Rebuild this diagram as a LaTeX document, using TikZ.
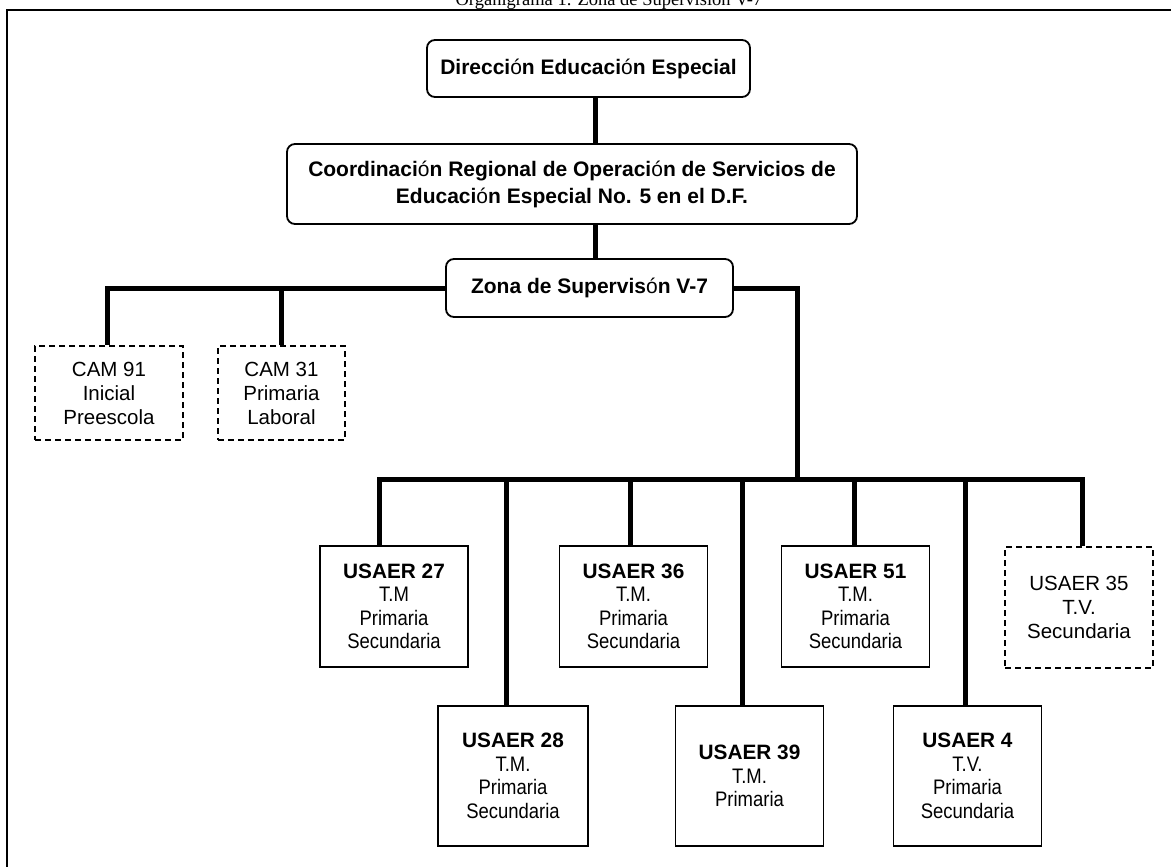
\documentclass[tikz,border=0pt]{standalone}
\usepackage{fontspec}
\setmainfont{Liberation Sans}
\newfontfamily\titelfont{Liberation Serif}
%schmale Schrift fuer die Zeilen unter USAER
\newfontfamily\schmal[FakeStretch=0.88]{Liberation Sans}
%das o mit Akzent steht im Original nicht fett
\newcommand{\duennO}{{\mdseries ó}}
\newcommand{\kopf}{\fontsize{20.8}{23.5}\selectfont\normalfont\bfseries}

\begin{document}
\begin{tikzpicture}[x=1pt,y=-1pt,
  kasten/.style={draw,line width=1.8pt,rounded corners=8pt,align=center,inner sep=0pt,font=\fontsize{21}{27}\selectfont\bfseries},
  einheit/.style={draw,line width=1.4pt,align=center,inner sep=0pt,minimum width=148pt,font=\schmal\fontsize{21}{23.5}\selectfont},
  gestrichelt/.style={einheit,dash pattern=on 6pt off 4pt,font=\normalfont\fontsize{20.5}{24}\selectfont},
  verb/.style={line width=5pt}]
\useasboundingbox (0,0) rectangle (1171,867);
%Rahmen, rechts und unten abgeschnitten
\draw[line width=2pt] (7,880) -- (7,10) -- (1180,10);
\node[font=\titelfont\fontsize{18.5}{20}\selectfont,anchor=base,inner sep=0pt] (titel) at (609,6) {Organigrama 1. Zona de Supervisión V-7};
%obere Ebenen
\node[kasten,minimum width=323pt,minimum height=57pt] (dir) at (588.5,68.5) {Direcci\duennO n Educaci\duennO n Especial};
\node[kasten,minimum width=570pt,minimum height=80pt] (koord) at (572,184) {Coordinaci\duennO n Regional de Operaci\duennO n de Servicios de\\Educaci\duennO n Especial No. 5 en el D.F.};
\node[kasten,minimum width=287pt,minimum height=58pt] (zona) at (589.5,288) {Zona de Supervis\duennO n V-7};
\coordinate (achse) at (595,0);
\draw[verb] (dir.south -| achse) -- (koord.north -| achse);
\draw[verb] (koord.south -| achse) -- (zona.north -| achse);
%CAM links
\node[gestrichelt,minimum height=94pt] (cam91) at (109,393) {CAM 91\\Inicial\\Preescola};
\node[gestrichelt,minimum width=127pt,minimum height=94pt] (cam31) at (281.5,393) {CAM 31\\Primaria\\Laboral};
\draw[verb] (zona.west) -| ([xshift=-2pt]cam91.north);
\draw[verb] (cam31.north) -- (cam31.north |- zona.west);
%USAER
\node[einheit,minimum height=121pt] (u27) at (394,606.5) {{\kopf USAER 27}\\T.M\\Primaria\\Secundaria};
\node[einheit,minimum height=121pt] (u36) at (633.5,606.5) {{\kopf USAER 36}\\T.M.\\Primaria\\Secundaria};
\node[einheit,minimum height=121pt] (u51) at (855.5,606.5) {{\kopf USAER 51}\\T.M.\\Primaria\\Secundaria};
\node[gestrichelt,minimum height=121pt] (u35) at (1079,607.5) {USAER 35\\T.V.\\Secundaria};
\node[einheit,minimum width=150pt,minimum height=140pt] (u28) at (513,776) {{\kopf USAER 28}\\T.M.\\Primaria\\Secundaria};
\node[einheit,minimum height=140pt] (u39) at (749.5,776) {{\kopf USAER 39}\\T.M.\\Primaria};
\node[einheit,minimum height=140pt] (u4) at (967.5,776) {{\kopf USAER 4}\\T.V.\\Primaria\\Secundaria};
\coordinate (bus) at (797,479);
\foreach \n/\dx in {u27/-15,u28/-7,u36/-3,u39/-7,u51/-1,u4/-2,u35/3}{
  \coordinate (\n-o) at ([xshift=\dx pt]\n.north);
}
\draw[verb] (zona.east) -| (bus);
\draw[verb] (u27-o) |- (bus) -| (u35-o);
\foreach \n in {u28,u36,u39,u51,u4}{
  \draw[verb] (\n-o) -- (\n-o |- bus);
}
\end{tikzpicture}
\end{document}
